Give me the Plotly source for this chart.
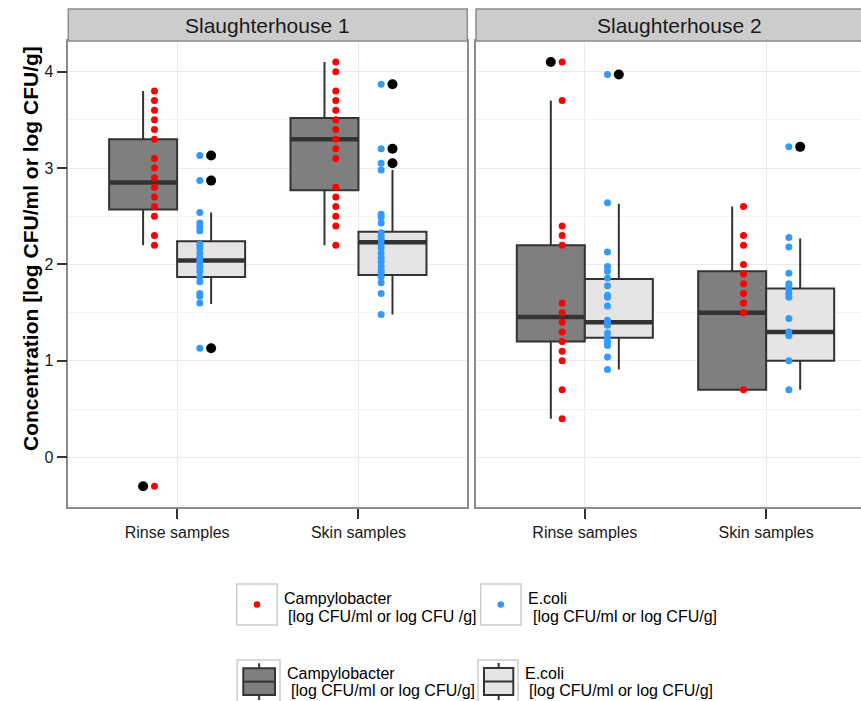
import plotly.graph_objects as go

# ---------------- data ----------------
houses = ["Slaughterhouse 1", "Slaughterhouse 2"]
sample_types = ["Rinse samples", "Skin samples"]

# individual observations (log CFU/ml or log CFU/g)
campy_s1_rinse = [3.8, 3.7, 3.6, 3.5, 3.4, 3.3, 3.1, 3.0, 2.9, 2.8, 2.7, 2.6, 2.5, 2.3, 2.2, -0.3]
campy_s1_skin = [4.1, 4.0, 3.8, 3.7, 3.6, 3.5, 3.4, 3.3, 3.2, 3.1, 2.8, 2.7, 2.6, 2.5, 2.4, 2.2]
campy_s2_rinse = [4.1, 3.7, 2.4, 2.3, 2.2, 1.6, 1.5, 1.4, 1.3, 1.2, 1.1, 1.0, 0.7, 0.4]
campy_s2_skin = [2.6, 2.3, 2.2, 2.0, 1.9, 1.8, 1.7, 1.6, 1.5, 0.7]

ecoli_s1_rinse = [3.13, 2.87, 2.54, 2.43, 2.39, 2.35, 2.21, 2.17, 2.12, 2.07, 2.03, 1.98,
                  1.93, 1.87, 1.82, 1.70, 1.67, 1.60, 1.13]
ecoli_s1_skin = [3.87, 3.20, 3.05, 2.98, 2.52, 2.49, 2.43, 2.33, 2.29, 2.26, 2.21, 2.17,
                 2.12, 2.07, 2.03, 1.98, 1.94, 1.91, 1.87, 1.81, 1.70, 1.48]
ecoli_s2_rinse = [3.97, 2.64, 2.13, 1.98, 1.93, 1.86, 1.78, 1.68, 1.66, 1.57, 1.42, 1.40,
                  1.37, 1.29, 1.24, 1.20, 1.16, 1.04, 0.91]
ecoli_s2_skin = [3.22, 2.28, 2.18, 1.91, 1.80, 1.77, 1.74, 1.70, 1.66, 1.44, 1.30, 1.26, 1.00, 0.70]

# box statistics, order: S1 rinse, S1 skin, S2 rinse, S2 skin
campy_q1 = [2.57, 2.77, 1.20, 0.70]
campy_median = [2.85, 3.30, 1.455, 1.50]
campy_q3 = [3.30, 3.52, 2.20, 1.93]
campy_lower = [2.20, 2.20, 0.40, 0.70]
campy_upper = [3.80, 4.10, 3.70, 2.60]
campy_outliers = [[-0.3], [], [4.1], []]

ecoli_q1 = [1.87, 1.89, 1.24, 1.00]
ecoli_median = [2.04, 2.23, 1.40, 1.30]
ecoli_q3 = [2.24, 2.34, 1.85, 1.75]
ecoli_lower = [1.59, 1.48, 0.91, 0.70]
ecoli_upper = [2.54, 2.98, 2.63, 2.27]
ecoli_outliers = [[3.13, 2.87, 1.13], [3.87, 3.20, 3.05], [3.97], [3.22]]

y_ticks = [0, 1, 2, 3, 4]

campy_points = [campy_s1_rinse, campy_s1_skin, campy_s2_rinse, campy_s2_skin]
ecoli_points = [ecoli_s1_rinse, ecoli_s1_skin, ecoli_s2_rinse, ecoli_s2_skin]

# ---------------- style ----------------
W, H = 861, 701
FONT = "Liberation Sans, Arial, sans-serif"
DARK_FILL = "#7f7f7f"
LIGHT_FILL = "#e5e5e5"
EDGE = "#333333"
RED = "#ff0000"
BLUE = "#3399ff"
BORDER = "#8c8c8c"
BOX_W = 0.375
PT_OFF = 0.0625


def px(x):
    return x / W


def py(y):
    return 1 - y / H


fig = go.Figure()

groups = [(0, 1), (0, 2), (1, 1), (1, 2)]  # (panel, category position)
for i, (panel, cat) in enumerate(groups):
    xa = "x" if panel == 0 else "x2"
    ya = "y" if panel == 0 else "y2"
    for kind in ("campy", "ecoli"):
        if kind == "campy":
            pos = cat - BOX_W / 2
            q1, med, q3, lo, hi = campy_q1[i], campy_median[i], campy_q3[i], campy_lower[i], campy_upper[i]
            fill = DARK_FILL
        else:
            pos = cat + BOX_W / 2
            q1, med, q3, lo, hi = ecoli_q1[i], ecoli_median[i], ecoli_q3[i], ecoli_lower[i], ecoli_upper[i]
            fill = LIGHT_FILL
        fig.add_trace(go.Box(
            x=[pos], q1=[q1], median=[med], q3=[q3], lowerfence=[lo], upperfence=[hi],
            width=BOX_W, fillcolor=fill, line=dict(color=EDGE, width=2), whiskerwidth=0,
            boxpoints=False, xaxis=xa, yaxis=ya, showlegend=False, hoverinfo="skip"))
        fig.add_trace(go.Scatter(
            x=[pos - BOX_W / 2, pos + BOX_W / 2], y=[med, med], mode="lines",
            line=dict(color=EDGE, width=4.5), xaxis=xa, yaxis=ya, showlegend=False,
            hoverinfo="skip"))

# outliers (black) at box centres
for i, (panel, cat) in enumerate(groups):
    xa = "x" if panel == 0 else "x2"
    ya = "y" if panel == 0 else "y2"
    for outs, pos in ((campy_outliers[i], cat - BOX_W / 2), (ecoli_outliers[i], cat + BOX_W / 2)):
        if outs:
            fig.add_trace(go.Scatter(
                x=[pos] * len(outs), y=outs, mode="markers",
                marker=dict(color="black", size=10, line=dict(width=0)),
                xaxis=xa, yaxis=ya, showlegend=False, hoverinfo="skip"))

# individual points
for i, (panel, cat) in enumerate(groups):
    xa = "x" if panel == 0 else "x2"
    ya = "y" if panel == 0 else "y2"
    cp = campy_points[i]
    ep = ecoli_points[i]
    fig.add_trace(go.Scatter(
        x=[cat - BOX_W / 2 + PT_OFF] * len(cp), y=cp, mode="markers",
        marker=dict(color=RED, size=7, line=dict(width=0)),
        xaxis=xa, yaxis=ya, showlegend=False))
    fig.add_trace(go.Scatter(
        x=[cat + BOX_W / 2 - PT_OFF] * len(ep), y=ep, mode="markers",
        marker=dict(color=BLUE, size=7, line=dict(width=0)),
        xaxis=xa, yaxis=ya, showlegend=False))

# ---------------- axes ----------------
P1 = (68.3, 467.3)
P2 = (476.0, 861.0)
TOP, BOT = 41.0, 507.0
ydom = [py(BOT), py(TOP)]
yrange = [-0.516, 4.318]

common_x = dict(
    tickvals=[1, 2], ticktext=sample_types, showgrid=True, gridcolor="#ebebeb", gridwidth=1,
    ticks="outside", ticklen=10, tickwidth=2, tickcolor=EDGE,
    tickfont=dict(size=16, color="#1a1a1a", family=FONT),
    showline=True, linecolor=BORDER, linewidth=1.5, mirror=True, zeroline=False,
    automargin=False, fixedrange=True)
fig.update_layout(
    xaxis=dict(domain=[px(P1[0]), px(P1[1])], range=[0.4, 2.6], anchor="y", **common_x),
    xaxis2=dict(domain=[px(P2[0]), 1.0],
                range=[0.4, 0.4 + (P2[1] - P2[0]) / ((P1[1] - P1[0]) / 2.2)],
                anchor="y2", **common_x),
    yaxis=dict(domain=ydom, range=yrange, tickvals=y_ticks, showgrid=True, gridcolor="#ebebeb",
               minor=dict(dtick=0.5, tick0=0, showgrid=True, gridcolor="#f3f3f3", ticks=""),
               ticks="outside", ticklen=10, tickwidth=2, tickcolor=EDGE,
               tickfont=dict(size=16, color="#1a1a1a", family=FONT),
               showline=True, linecolor=BORDER, linewidth=1.5, mirror=True, zeroline=False,
               automargin=False, fixedrange=True, anchor="x"),
    yaxis2=dict(domain=ydom, range=yrange, tickvals=y_ticks, showgrid=True, gridcolor="#ebebeb",
                minor=dict(dtick=0.5, tick0=0, showgrid=True, gridcolor="#f3f3f3", ticks=""),
                ticks="", showticklabels=False, matches="y",
                showline=True, linecolor=BORDER, linewidth=1.5, mirror=False, zeroline=False,
                automargin=False, fixedrange=True, anchor="x2"),
)

shapes = []
annotations = []

# strips
for (x0, x1), name in zip((P1, (P2[0], P2[1] + 20)), houses):
    shapes.append(dict(type="rect", xref="paper", yref="paper", x0=px(x0), x1=px(x1),
                       y0=py(41), y1=py(9), fillcolor="#cccccc",
                       line=dict(color=BORDER, width=1.5), layer="above"))
for (x0, x1), name in zip((P1, (P2[0], P2[0] + (P1[1] - P1[0]) + 8)), houses):
    annotations.append(dict(text=name, xref="paper", yref="paper", x=px((x0 + x1) / 2), y=py(25),
                            xanchor="center", yanchor="middle", showarrow=False,
                            font=dict(size=21, color="#1a1a1a", family=FONT)))

# y axis title
annotations.append(dict(text="<b>Concentration [log CFU/ml or log CFU/g]</b>", xref="paper",
                        yref="paper", x=px(31), y=py(249), xanchor="center", yanchor="middle",
                        textangle=-90, showarrow=False,
                        font=dict(size=21, color="#000000", family=FONT)))

# ---------------- manual legend ----------------
KEY_LINE = "#cccccc"


def key_square(x0, y0, x1, y1):
    shapes.append(dict(type="rect", xref="paper", yref="paper", x0=px(x0), x1=px(x1),
                       y0=py(y1), y1=py(y0), fillcolor="white",
                       line=dict(color=KEY_LINE, width=1.5)))


def key_dot(cx, cy, color, r=3.3):
    shapes.append(dict(type="circle", xref="paper", yref="paper", x0=px(cx - r), x1=px(cx + r),
                       y0=py(cy + r), y1=py(cy - r), fillcolor=color, line=dict(width=0)))


def key_box(x0, y0, x1, y1, fill):
    cx = (x0 + x1) / 2
    shapes.append(dict(type="line", xref="paper", yref="paper", x0=px(cx), x1=px(cx),
                       y0=py(y0 - 5), y1=py(y1 + 5), line=dict(color=EDGE, width=2)))
    shapes.append(dict(type="rect", xref="paper", yref="paper", x0=px(x0), x1=px(x1),
                       y0=py(y1), y1=py(y0), fillcolor=fill, line=dict(color=EDGE, width=2)))
    cy = (y0 + y1) / 2
    shapes.append(dict(type="line", xref="paper", yref="paper", x0=px(x0), x1=px(x1),
                       y0=py(cy), y1=py(cy), line=dict(color=EDGE, width=2)))


def key_text(x, y, text):
    annotations.append(dict(text=text, xref="paper", yref="paper", x=px(x), y=py(y),
                            xanchor="left", yanchor="middle", showarrow=False,
                            font=dict(size=16, color="#000000", family=FONT)))


legend_names = ["Campylobacter", "E.coli"]
legend_units_pts = ["[log CFU/ml or log CFU /g]", "[log CFU/ml or log CFU/g]"]
legend_units_box = ["[log CFU/ml or log CFU/g]", "[log CFU/ml or log CFU/g]"]

# row 1: point keys
key_square(236.7, 584, 277.3, 625)
key_dot(257.0, 604.5, RED)
key_text(282.0, 598, legend_names[0])
key_text(286.0, 616.5, legend_units_pts[0])
key_square(480.7, 584, 521.0, 625)
key_dot(500.8, 604.5, BLUE)
key_text(525.5, 598, legend_names[1])
key_text(530.5, 616.5, legend_units_pts[1])

# row 2: box keys
key_square(237.3, 660, 280.0, 702)
key_box(243.3, 668.3, 275.0, 695.0, DARK_FILL)
key_text(284.5, 673, legend_names[0])
key_text(288.8, 690, legend_units_box[0])
key_square(478.0, 660, 518.0, 702)
key_box(484.0, 668.0, 513.3, 695.0, LIGHT_FILL)
key_text(522.5, 673, legend_names[1])
key_text(527.2, 690, legend_units_box[1])

fig.update_layout(
    width=W, height=H, margin=dict(l=0, r=0, t=0, b=0),
    paper_bgcolor="white", plot_bgcolor="white",
    shapes=shapes, annotations=annotations, showlegend=False,
    font=dict(family=FONT),
)

fig.write_html("out.html", config={"displayModeBar": False},
               post_script="document.body.style.margin='0';document.body.style.overflow='hidden';")
